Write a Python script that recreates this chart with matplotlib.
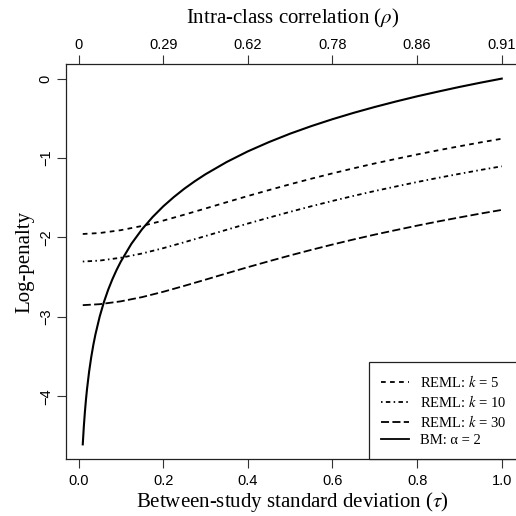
import matplotlib
matplotlib.use("Agg")
import matplotlib.pyplot as plt
from matplotlib.lines import Line2D

# Between-study standard deviation grid and log-penalty curves
tau_reml = [0.01, 0.05, 0.10, 0.15, 0.20, 0.25, 0.30, 0.35, 0.40, 0.45, 0.50,
            0.55, 0.60, 0.65, 0.70, 0.75, 0.80, 0.85, 0.90, 0.95, 1.00]
reml_k5 = [-1.956, -1.944, -1.908, -1.855, -1.788, -1.713, -1.635, -1.556, -1.478, -1.403, -1.330,
           -1.260, -1.193, -1.129, -1.068, -1.011, -0.955, -0.902, -0.852, -0.803, -0.757]
reml_k10 = [-2.303, -2.291, -2.255, -2.202, -2.135, -2.060, -1.982, -1.903, -1.825, -1.750, -1.677,
            -1.607, -1.540, -1.476, -1.415, -1.358, -1.302, -1.249, -1.199, -1.150, -1.104]
reml_k30 = [-2.852, -2.840, -2.804, -2.751, -2.684, -2.609, -2.531, -2.452, -2.374, -2.299, -2.226,
            -2.156, -2.089, -2.025, -1.964, -1.907, -1.851, -1.798, -1.748, -1.699, -1.653]

tau_bm = [0.010, 0.0125, 0.015, 0.0175, 0.020, 0.025, 0.030, 0.035, 0.040, 0.050, 0.060,
          0.070, 0.080, 0.090, 0.100, 0.125, 0.150, 0.175, 0.200, 0.225, 0.250, 0.275,
          0.300, 0.350, 0.400, 0.450, 0.500, 0.550, 0.600, 0.650, 0.700, 0.750, 0.800,
          0.850, 0.900, 0.950, 1.000]
bm_alpha2 = [-4.605, -4.382, -4.200, -4.046, -3.912, -3.689, -3.507, -3.352, -3.219, -2.996, -2.813,
             -2.659, -2.526, -2.408, -2.303, -2.079, -1.897, -1.743, -1.609, -1.492, -1.386, -1.291,
             -1.204, -1.050, -0.916, -0.799, -0.693, -0.598, -0.511, -0.431, -0.357, -0.288, -0.223,
             -0.163, -0.105, -0.051, 0.000]

# Axis ticks
x_ticks = [0.0, 0.2, 0.4, 0.6, 0.8, 1.0]
x_ticklabels = ["0.0", "0.2", "0.4", "0.6", "0.8", "1.0"]
rho_ticklabels = ["0", "0.29", "0.62", "0.78", "0.86", "0.91"]
y_ticks = [0, -1, -2, -3, -4]
y_ticklabels = ["0", "\u22121", "\u22122", "\u22123", "\u22124"]

legend_labels = ["REML: $k$ = 5", "REML: $k$ = 10", "REML: $k$ = 30", "BM: \u03b1 = 2"]

plt.rcParams["mathtext.fontset"] = "stix"
plt.rcParams["lines.scale_dashes"] = False

SERIF = "Liberation Serif"
SANS = "Liberation Sans"

fig = plt.figure(figsize=(5.16, 5.16), dpi=100)
W = H = 516.0
left, top, bottom, right = 66.0, 64.0, 459.0, 518.5
ax = fig.add_axes([left / W, 1 - bottom / H, (right - left) / W, (bottom - top) / H])

lw = 1.3
style_k5 = (0, (3.4, 3.1))
style_k10 = (0, (1.1, 2.4, 3.2, 2.4))
style_k30 = (0, (5.8, 2.4))

ax.plot(tau_reml, reml_k5, color="black", lw=lw, linestyle=style_k5)
ax.plot(tau_reml, reml_k10, color="black", lw=lw, linestyle=style_k10)
ax.plot(tau_reml, reml_k30, color="black", lw=lw, linestyle=style_k30)
ax.plot(tau_bm, bm_alpha2, color="black", lw=1.5, linestyle="-")

ax.set_xlim(-0.0296, 1.0396)
ax.set_ylim(-4.789, 0.184)

for s in ax.spines.values():
    s.set_linewidth(0.9)
    s.set_color("#222222")

tick_kw = dict(direction="out", length=6.5, width=0.8, color="#333333",
               labelsize=10.5)
ax.set_xticks(x_ticks)
ax.set_xticklabels(x_ticklabels, fontfamily=SANS)
ax.set_yticks(y_ticks)
ax.set_yticklabels(y_ticklabels, fontfamily=SANS, rotation=90, va="center")
ax.tick_params(axis="x", pad=4, **tick_kw)
ax.tick_params(axis="y", pad=3, **tick_kw)

ax.set_xlabel("Between-study standard deviation ($\\tau$)", fontfamily=SERIF,
              fontsize=15, labelpad=2)
ax.set_ylabel("Log-penalty", fontfamily=SERIF, fontsize=15, labelpad=3)

# Top axis: intra-class correlation for each tau
ax_top = ax.twiny()
ax_top.set_xlim(ax.get_xlim())
ax_top.set_xticks(x_ticks)
ax_top.set_xticklabels(rho_ticklabels, fontfamily=SANS)
ax_top.tick_params(axis="x", pad=2, **tick_kw)
ax_top.set_xlabel("Intra-class correlation ($\\rho$)", fontfamily=SERIF,
                  fontsize=15, labelpad=10.5)
for s in ax_top.spines.values():
    s.set_visible(False)

handles = [
    Line2D([], [], color="black", lw=lw, linestyle=style_k5),
    Line2D([], [], color="black", lw=lw, linestyle=style_k10),
    Line2D([], [], color="black", lw=lw, linestyle=style_k30),
    Line2D([], [], color="black", lw=lw, linestyle="-"),
]
leg = ax.legend(handles, legend_labels, loc="lower right", bbox_to_anchor=(1, 0),
                borderaxespad=0, fancybox=False, framealpha=1, edgecolor="#222222",
                prop={"family": SERIF, "size": 10.5}, handlelength=1.9,
                handletextpad=0.75, labelspacing=0.25, borderpad=0.85)
leg.get_frame().set_linewidth(0.9)

fig.savefig("out.png", dpi=100)
